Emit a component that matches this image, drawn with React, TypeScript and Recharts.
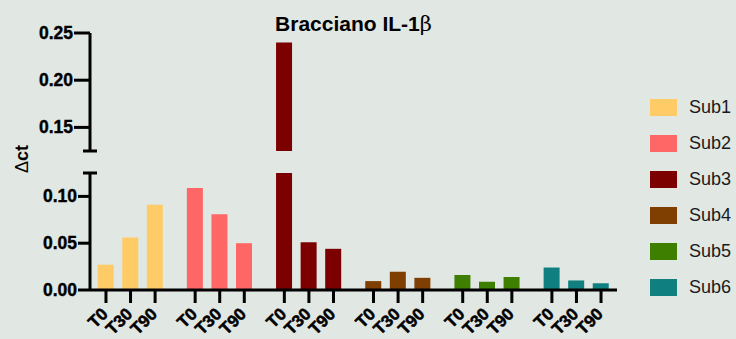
import { Bar, BarChart, Legend, XAxis, YAxis } from 'recharts';

// groups, time points and the values (delta ct)
const subjects = ['Sub1', 'Sub2', 'Sub3', 'Sub4', 'Sub5', 'Sub6'];
const timePoints = ['T0', 'T30', 'T90'];
const colors = ['#ffcb66', '#ff6666', '#7d0000', '#7f3f00', '#3f7f00', '#107f7f'];

const sub1 = [0.027, 0.056, 0.091];
const sub2 = [0.109, 0.081, 0.05];
const sub3 = [0.24, 0.051, 0.044];
const sub4 = [0.0095, 0.0195, 0.013];
const sub5 = [0.016, 0.0088, 0.014];
const sub6 = [0.024, 0.0102, 0.0072];
const values = [sub1, sub2, sub3, sub4, sub5, sub6];

const lowerTicks = [0, 0.05, 0.1];
const upperTicks = [0.15, 0.2, 0.25];
const breakAt = 0.125;
const topMax = 0.25;

// three bars per group, plus a narrower gap between groups
const GROUP_STEP = 3.63;

const rows = subjects.flatMap((s, gi) =>
  timePoints.map((t, ti) => {
    const row: Record<string, any> = { pos: gi * GROUP_STEP + ti, label: t };
    row[s] = values[gi][ti];
    return row;
  })
);

// upper segment only shows what passes the break
const upperRows = rows.map((r) => {
  const out: Record<string, any> = { pos: r.pos, label: r.label };
  subjects.forEach((s) => {
    if (r[s] != null && r[s] > breakAt) out[s] = r[s];
  });
  return out;
});

const positions = rows.map((r) => r.pos);
const xDomain: [number, number] = [-0.65, (subjects.length - 1) * GROUP_STEP + 2 + 0.65];

const FONT = '"Liberation Sans", Arial, Helvetica, sans-serif';
const BG = '#e1e7e3';
const W = 736;
const AXIS_W = 90;
const RIGHT = 119;

const makeYTick = (len: number) => (props: any) => {
  const { x, y, payload } = props;
  const ax = x + len + 2;
  if (Math.abs(payload.value - breakAt) < 1e-9) {
    return <line x1={ax - 7} x2={ax + 7} y1={y} y2={y} stroke="#000" strokeWidth={3} />;
  }
  return (
    <g>
      <line x1={ax - len} x2={ax} y1={y} y2={y} stroke="#000" strokeWidth={3} />
      <text
        x={ax - len - 1}
        y={y}
        dy={6}
        textAnchor="end"
        fontFamily={FONT}
        fontWeight="bold"
        fontSize={17.5}
        fill="#000"
        stroke="#000"
        strokeWidth={0.4}
      >
        {Number(payload.value).toFixed(2)}
      </text>
    </g>
  );
};

const XTick = (props: any) => {
  const { x, y, payload } = props;
  const row = rows.find((r) => Math.abs(r.pos - payload.value) < 1e-6);
  const ax = x + 3;
  const ay = y + 10;
  return (
    <text
      x={ax}
      y={ay}
      textAnchor="end"
      transform={`rotate(-45, ${ax}, ${ay})`}
      fontFamily={FONT}
      fontWeight="bold"
      fontSize={17}
      fill="#000"
      stroke="#000"
      strokeWidth={0.5}
    >
      {row ? row.label : ''}
    </text>
  );
};

const renderLegend = (props: any) => (
  <div style={{ fontFamily: FONT }}>
    {(props.payload || []).map((p: any) => (
      <div key={p.value} style={{ display: 'flex', alignItems: 'center', height: 36 }}>
        <span style={{ width: 27, height: 17, background: p.color, marginRight: 12 }} />
        <span style={{ fontSize: 18, color: '#1a1a1a' }}>{p.value}</span>
      </div>
    ))}
  </div>
);

export default function App() {
  return (
    <div
      style={{
        position: 'absolute',
        left: 0,
        top: 0,
        width: W,
        height: 339,
        background: BG,
        overflow: 'hidden',
      }}
    >
      {/* lower segment, 0 - 0.125, with the x axis and the legend */}
      <div style={{ position: 'absolute', left: 0, top: 0 }}>
        <BarChart
          width={W}
          height={339}
          data={rows}
          barSize={16}
          margin={{ top: 173, right: RIGHT, bottom: 4, left: 0 }}
        >
          <XAxis
            dataKey="pos"
            type="number"
            domain={xDomain}
            ticks={positions}
            interval={0}
            allowDataOverflow
            height={45}
            axisLine={{ stroke: '#000', strokeWidth: 3 }}
            tickLine={{ stroke: '#000', strokeWidth: 3 }}
            tickSize={13}
            tickMargin={2}
            tick={<XTick />}
          />
          <YAxis
            type="number"
            domain={[0, breakAt]}
            ticks={[...lowerTicks, breakAt]}
            allowDataOverflow
            width={AXIS_W}
            axisLine={{ stroke: '#000', strokeWidth: 3 }}
            tickLine={false}
            tickSize={12}
            tickMargin={2}
            tick={makeYTick(12)}
          />
          <Legend
            layout="vertical"
            align="center"
            verticalAlign="middle"
            wrapperStyle={{ left: 650, top: 89, width: 86 }}
            content={renderLegend}
          />
          {subjects.map((s, i) => (
            <Bar key={s} dataKey={s} name={s} stackId="a" fill={colors[i]} isAnimationActive={false} />
          ))}
        </BarChart>
      </div>

      {/* upper segment, 0.125 - 0.25 */}
      <div style={{ position: 'absolute', left: 0, top: 0 }}>
        <BarChart
          width={W}
          height={160}
          data={upperRows}
          barSize={16}
          margin={{ top: 33, right: RIGHT, bottom: 9, left: 0 }}
        >
          <XAxis dataKey="pos" type="number" domain={xDomain} allowDataOverflow hide />
          <YAxis
            type="number"
            domain={[breakAt, topMax]}
            ticks={[breakAt, ...upperTicks]}
            allowDataOverflow
            width={AXIS_W}
            axisLine={{ stroke: '#000', strokeWidth: 3 }}
            tickLine={false}
            tickSize={16}
            tickMargin={2}
            tick={makeYTick(16)}
          />
          {subjects.map((s, i) => (
            <Bar key={s} dataKey={s} name={s} stackId="a" fill={colors[i]} isAnimationActive={false} />
          ))}
        </BarChart>
      </div>

      <div
        style={{
          position: 'absolute',
          left: AXIS_W,
          width: W - AXIS_W - RIGHT,
          top: 12,
          textAlign: 'center',
          fontFamily: FONT,
          fontWeight: 'bold',
          fontSize: 21,
          color: '#000',
        }}
      >
        Bracciano IL-1<span style={{ fontWeight: 'normal', fontFamily: '"DejaVu Serif", serif' }}>β</span>
      </div>

      <div
        style={{
          position: 'absolute',
          left: 21.5,
          top: 159,
          transform: 'translate(-50%, -50%) rotate(-90deg)',
          fontFamily: FONT,
          fontSize: 18,
          color: '#000',
          whiteSpace: 'nowrap',
        }}
      >
        <span>Δ</span>
        <span style={{ fontWeight: 'bold' }}>ct</span>
      </div>
    </div>
  );
}
